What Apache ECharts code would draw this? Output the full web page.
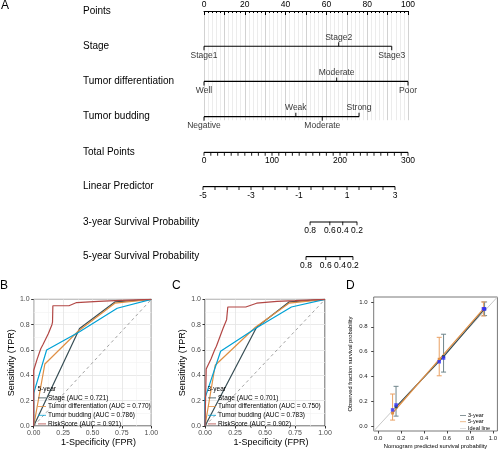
<!DOCTYPE html>
<html><head><meta charset="utf-8">
<script src="https://cdn.jsdelivr.net/npm/echarts@6/dist/echarts.min.js"></script>
<style>html,body{margin:0;padding:0;background:#fff}#c{width:500px;height:454px}</style>
</head><body><div id="c"></div>
<script>
// ---------------- DATA ----------------
// Nomogram (panel A)
const nomoRowNames = ['Points', 'Stage', 'Tumor differentiation', 'Tumor budding'];
const scaleRowNames = ['Total Points', 'Linear Predictor', '3-year Survival Probability', '5-year Survival Probability'];
const stageLevels = ['Stage1', 'Stage2', 'Stage3'];
const stagePoints = [0, 66, 92];
const diffLevels = ['Well', 'Moderate', 'Poor'];
const diffPoints = [0, 65, 100];
const buddingLevels = ['Negative', 'Weak', 'Moderate', 'Strong'];
const buddingPoints = [0, 45, 58, 76];
const pointsRange = [0, 100];
const totalPointsRange = [0, 300];
const totalPointsLabels = [0, 100, 200, 300];
const totalPointsTickStep = 10;
const linPredRange = [-5, 3];
const linPredLabels = [-5, -3, -1, 1, 3];
const linPredTickStep = 0.5;
const surv3Labels = ['0.8', '0.6', '0.4', '0.2'];
const surv3TotalPoints = [156, 185, 204, 225];
const surv5Labels = ['0.8', '0.6', '0.4', '0.2'];
const surv5TotalPoints = [150, 179, 200, 219];

// ROC (panels B, C)
const rocVars = ['Stage', 'Tumor differentiation', 'Tumor budding', 'RiskScore'];
const auc5 = ['0.721', '0.770', '0.786', '0.921'];
const auc3 = ['0.701', '0.750', '0.783', '0.902'];
const roc5Stage = [[0,0],[0.39,0.77],[0.69,0.98],[1,1]];
const roc5Diff = [[0,0],[0.095,0.49],[0.38,0.75],[0.69,0.97],[1,1]];
const roc5Bud = [[0,0],[0,0.26],[0.11,0.60],[0.39,0.745],[0.71,0.93],[1,1]];
const roc5Risk = [[0,0],[0,0.44],[0.03,0.53],[0.06,0.61],[0.08,0.645],[0.125,0.73],[0.155,0.80],[0.16,0.82],[0.163,0.95],[0.30,0.95],[0.365,0.975],[0.55,0.985],[0.69,0.99],[1,1]];
const roc3Stage = [[0,0],[0.43,0.78],[0.70,0.98],[1,1]];
const roc3Diff = [[0,0],[0.085,0.48],[0.42,0.78],[0.70,0.97],[1,1]];
const roc3Bud = [[0,0],[0,0.22],[0.13,0.59],[0.42,0.77],[0.72,0.94],[1,1]];
const roc3Risk = [[0,0],[0.01,0.45],[0.05,0.53],[0.08,0.60],[0.095,0.63],[0.15,0.77],[0.18,0.84],[0.19,0.94],[0.34,0.94],[0.43,0.97],[0.6,0.985],[0.75,0.99],[1,1]];
const rocDiagonal = [[0,0],[1,1]];

// Calibration (panel D)
const calNames = ['3-year', '5-year', 'Ideal line'];
const cal3 = [[0.155,0.155],[0.57,0.56],[0.928,0.944]];
const cal5 = [[0.125,0.105],[0.532,0.538],[0.918,0.945]];
const cal3Err = [[0.155,0.08,0.32],[0.57,0.435,0.74],[0.928,0.89,1.0]];
const cal5Err = [[0.125,0.048,0.258],[0.532,0.405,0.715],[0.918,0.887,1.0]];
const cal3Corrected = [[0.155,0.17],[0.57,0.548],[0.928,0.944]];
const cal5Corrected = [[0.125,0.13],[0.532,0.518],[0.918,0.945]];
const calTicks = [0, 0.2, 0.4, 0.6, 0.8, 1.0];

// ---------------- CHART ----------------
const FONT = '"Liberation Sans", Arial, Helvetica, sans-serif';
const TXT = '#000';
const COL = ['#374E55', '#DF8F44', '#00A1D5', '#B24745'];
const LINE_ICON = 'path://M0,0L20,0L20,2L0,2Z';
const chart = echarts.init(document.getElementById('c'), null, {renderer: 'canvas'});
const grids = [], xAxes = [], yAxes = [], series = [], titles = [], legends = [];

function steps(range, step) {
  const out = [];
  const n = Math.round((range[1] - range[0]) / step);
  for (let i = 0; i <= n; i++) out.push(+(range[0] + i * step).toFixed(6));
  return out;
}

// ---- Panel A: nomogram ----
const NL = 204, NW = 204;   // points axis pixel span
const rowStep = 35.23;
grids.push({left: NL, top: 11, width: NW, height: rowStep * 3.1});
xAxes.push({gridIndex: 0, type: 'value', position: 'top', min: pointsRange[0], max: pointsRange[1], interval: 10,
  axisLine: {show: true, onZero: false, lineStyle: {color: '#000', width: 1}},
  axisTick: {show: true, inside: true, length: 4, lineStyle: {color: '#000', width: 1}},
  minorTick: {show: true, splitNumber: 5, length: 2, lineStyle: {color: '#000', width: 1}},
  axisLabel: {fontSize: 8.5, color: TXT, margin: 2, fontFamily: FONT, formatter: v => (v % 20 === 0 ? String(v) : '')},
  splitLine: {show: true, lineStyle: {color: '#d2d2d2', width: 1}},
  minorSplitLine: {show: true, lineStyle: {color: '#ececec', width: 1}}
});
yAxes.push({gridIndex: 0, type: 'value', min: 0, max: 3.1, inverse: true,
  axisLine: {show: false}, axisTick: {show: false}, splitLine: {show: false},
  axisLabel: {show: true, customValues: [0, 1, 2, 3], formatter: v => nomoRowNames[Math.round(v)] || '',
    align: 'left', margin: NL - 83, fontSize: 10, color: TXT, fontFamily: FONT}
});
const predictors = [
  {levels: stageLevels, pts: stagePoints},
  {levels: diffLevels, pts: diffPoints},
  {levels: buddingLevels, pts: buddingPoints}
];
predictors.forEach((p, k) => {
  const row = k + 1;
  series.push({type: 'line', xAxisIndex: 0, yAxisIndex: 0, silent: true, z: 3, symbol: 'none',
    data: [[Math.min(...p.pts), row], [Math.max(...p.pts), row]],
    lineStyle: {color: '#000', width: 1.2}});
  series.push({type: 'scatter', xAxisIndex: 0, yAxisIndex: 0, silent: true, z: 4, symbol: 'rect', symbolSize: [1.2, 4],
    itemStyle: {color: '#000'},
    label: {show: true, formatter: '{b}', distance: 0.5, fontSize: 8.5, color: TXT, fontFamily: FONT},
    data: p.levels.map((name, i) => {
      const up = i % 2 === 1;
      return {name: name, value: [p.pts[i], row], symbolOffset: [0, up ? -2 : 2], label: {position: up ? 'top' : 'bottom'}};
    })
  });
});
// scale rows (each in its own thin grid; line and ticks drawn as series on the row's axis)
const ptsPx = NW / (totalPointsRange[1] - totalPointsRange[0]);
const scaleRows = [
  {top: 151.8, left: NL, width: NW, min: totalPointsRange[0], max: totalPointsRange[1],
   ticks: steps(totalPointsRange, totalPointsTickStep), labels: totalPointsLabels, fmt: v => String(v)},
  {top: 186.2, left: 203, width: 192, min: linPredRange[0], max: linPredRange[1],
   ticks: steps(linPredRange, linPredTickStep), labels: linPredLabels, fmt: v => String(v)},
  {top: 221.5, left: NL + ptsPx * surv3TotalPoints[0], width: ptsPx * (surv3TotalPoints[3] - surv3TotalPoints[0]),
   min: surv3TotalPoints[0], max: surv3TotalPoints[3], ticks: surv3TotalPoints, labels: surv3TotalPoints,
   fmt: v => surv3Labels[surv3TotalPoints.indexOf(v)] || ''},
  {top: 256.2, left: NL + ptsPx * surv5TotalPoints[0], width: ptsPx * (surv5TotalPoints[3] - surv5TotalPoints[0]),
   min: surv5TotalPoints[0], max: surv5TotalPoints[3], ticks: surv5TotalPoints, labels: surv5TotalPoints,
   fmt: v => surv5Labels[surv5TotalPoints.indexOf(v)] || ''}
];
scaleRows.forEach((r, k) => {
  const gi = grids.length;
  grids.push({left: r.left, top: r.top, width: r.width, height: 1});
  xAxes.push({gridIndex: gi, type: 'value', position: 'bottom', min: r.min, max: r.max,
    axisLine: {show: false, onZero: false},
    axisTick: {show: false},
    axisLabel: {fontSize: 8.5, color: TXT, margin: 3.5, fontFamily: FONT, customValues: r.labels, formatter: r.fmt,
      showMinLabel: true, showMaxLabel: true},
    splitLine: {show: false}});
  yAxes.push({gridIndex: gi, type: 'category', data: [scaleRowNames[k]],
    axisLine: {show: false}, axisTick: {show: false}, splitLine: {show: false},
    axisLabel: {align: 'left', margin: r.left - 83, fontSize: 10, color: TXT, fontFamily: FONT}});
  series.push({type: 'line', xAxisIndex: gi, yAxisIndex: gi, silent: true, symbol: 'none', z: 3,
    data: [[r.min, 0], [r.max, 0]], lineStyle: {color: '#000', width: 1.2}});
  series.push({type: 'scatter', xAxisIndex: gi, yAxisIndex: gi, silent: true, z: 4,
    symbol: 'rect', symbolSize: [1.1, 3.5], symbolOffset: [0, 1.6], itemStyle: {color: '#000'},
    data: r.ticks.map(t => [t, 0])});
});

// ---- Panels B, C: ROC ----
function rocPanel(left, width, curves, aucs, yearLabel, legendLeft) {
  const gi = grids.length;
  grids.push({left: left, top: 299.4, width: width, height: 126.6, show: true,
    borderColor: '#333', borderWidth: 1, backgroundColor: '#fff'});
  xAxes.push({gridIndex: gi, type: 'value', min: 0, max: 1, interval: 0.25,
    axisLine: {show: false, onZero: false}, axisTick: {show: true, length: 2.5, lineStyle: {color: '#333'}},
    minorTick: {show: false, splitNumber: 2},
    axisLabel: {fontSize: 7, color: '#4d4d4d', margin: 3.5, fontFamily: FONT, formatter: v => v.toFixed(2)},
    splitLine: {show: true, lineStyle: {color: '#e3e3e3', width: 0.8}},
    minorSplitLine: {show: true, lineStyle: {color: '#f1f1f1', width: 0.6}},
    name: '1-Specificity (FPR)', nameLocation: 'middle', nameGap: 12.5,
    nameTextStyle: {fontSize: 9, color: TXT, fontFamily: FONT, padding: [0, 0, 0, 12]}});
  yAxes.push({gridIndex: gi, type: 'value', min: 0, max: 1, interval: 0.2,
    axisLine: {show: false, onZero: false}, axisTick: {show: true, length: 2.5, lineStyle: {color: '#333'}},
    minorTick: {show: false, splitNumber: 2},
    axisLabel: {fontSize: 7, color: '#4d4d4d', margin: 4, fontFamily: FONT, formatter: v => v.toFixed(1)},
    splitLine: {show: true, lineStyle: {color: '#e3e3e3', width: 0.8}},
    minorSplitLine: {show: true, lineStyle: {color: '#f1f1f1', width: 0.6}},
    name: 'Sensitivity (TPR)', nameLocation: 'middle', nameGap: 18,
    nameTextStyle: {fontSize: 9, color: TXT, fontFamily: FONT}});
  series.push({type: 'line', xAxisIndex: gi, yAxisIndex: gi, data: rocDiagonal, symbol: 'none', silent: true, z: 2,
    lineStyle: {color: '#8a8a8a', width: 0.8, type: [3, 3]}});
  const names = [];
  curves.forEach((d, i) => {
    const nm = rocVars[i] + ' (AUC = ' + aucs[i] + ')';
    names.push({name: nm, icon: LINE_ICON});
    series.push({type: 'line', name: nm, xAxisIndex: gi, yAxisIndex: gi, data: d, symbol: 'none', z: 3,
      lineStyle: {color: COL[i], width: 1.2}, itemStyle: {color: COL[i]}});
  });
  legends.push({data: names, orient: 'vertical', left: legendLeft, top: 394.4, padding: 0,
    itemWidth: 8, itemHeight: 6, itemGap: 1.67, selectedMode: false,
    textStyle: {fontSize: 6.5, color: TXT, fontFamily: FONT, lineHeight: 6, padding: [0, 0, 0, -3]}});
  titles.push({text: yearLabel, left: legendLeft - 0.5, top: 386, padding: 0,
    textStyle: {fontSize: 6.5, fontWeight: 'normal', color: TXT, fontFamily: FONT}});
}
rocPanel(33.7, 117.6, [roc5Stage, roc5Diff, roc5Bud, roc5Risk], auc5, '5-year', 38);
rocPanel(205, 120, [roc3Stage, roc3Diff, roc3Bud, roc3Risk], auc3, '3-year', 208);

// ---- Panel D: calibration ----
const dMin = -0.04, dMax = 1.04;
const gD = grids.length;
grids.push({left: 373.7, top: 297, width: 124.6, height: 134, show: true, borderColor: '#555', borderWidth: 0.8, backgroundColor: '#fff'});
xAxes.push({gridIndex: gD, type: 'value', min: dMin, max: dMax,
  axisLine: {show: false, onZero: false},
  axisTick: {show: true, length: 2.5, customValues: calTicks, lineStyle: {color: '#444'}},
  axisLabel: {customValues: calTicks, formatter: v => v.toFixed(1), fontSize: 6, color: '#222', margin: 4, fontFamily: FONT},
  splitLine: {show: false},
  name: 'Nomogram predicted survival probability', nameLocation: 'middle', nameGap: 12,
  nameTextStyle: {fontSize: 5.8, color: TXT, fontFamily: FONT}});
yAxes.push({gridIndex: gD, type: 'value', min: dMin, max: dMax,
  axisLine: {show: false, onZero: false},
  axisTick: {show: true, length: 2.5, customValues: calTicks, lineStyle: {color: '#444'}},
  axisLabel: {customValues: calTicks, formatter: v => v.toFixed(1), fontSize: 6, color: '#222', margin: 6, fontFamily: FONT},
  splitLine: {show: false},
  name: 'Observed fraction survival probability', nameLocation: 'middle', nameGap: 20,
  nameTextStyle: {fontSize: 5.8, color: TXT, fontFamily: FONT}});
series.push({type: 'line', name: 'Ideal line', xAxisIndex: gD, yAxisIndex: gD, data: [[dMin, dMin], [dMax, dMax]],
  symbol: 'none', z: 2, lineStyle: {color: '#c8c8c8', width: 1}, itemStyle: {color: '#c8c8c8'}});
function errSeries(data, color) {
  return {type: 'custom', xAxisIndex: gD, yAxisIndex: gD, data: data, z: 3, silent: true,
    encode: {x: 0, y: [1, 2]},
    renderItem: (params, api) => {
      const x = api.value(0);
      const p1 = api.coord([x, api.value(1)]), p2 = api.coord([x, api.value(2)]);
      const w = 2.5, st = {stroke: color, lineWidth: 1};
      return {type: 'group', children: [
        {type: 'line', shape: {x1: p1[0], y1: p1[1], x2: p2[0], y2: p2[1]}, style: st},
        {type: 'line', shape: {x1: p1[0] - w, y1: p1[1], x2: p1[0] + w, y2: p1[1]}, style: st},
        {type: 'line', shape: {x1: p2[0] - w, y1: p2[1], x2: p2[0] + w, y2: p2[1]}, style: st}
      ]};
    }};
}
series.push(errSeries(cal3Err, '#6f858b'));
series.push(errSeries(cal5Err, '#E9A063'));
series.push({type: 'line', name: '3-year', xAxisIndex: gD, yAxisIndex: gD, data: cal3, symbol: 'rect', symbolSize: 3, z: 4,
  lineStyle: {color: COL[0], width: 1.2}, itemStyle: {color: COL[0]}});
series.push({type: 'line', name: '5-year', xAxisIndex: gD, yAxisIndex: gD, data: cal5, symbol: 'rect', symbolSize: 3, z: 4,
  lineStyle: {color: COL[1], width: 1.2}, itemStyle: {color: COL[1]}});
[cal3Corrected, cal5Corrected].forEach(d => series.push({type: 'scatter', xAxisIndex: gD, yAxisIndex: gD, data: d,
  symbol: 'rect', symbolSize: 3.5, z: 5, silent: true, itemStyle: {color: '#3030ff'}}));
legends.push({data: calNames.map(n => ({name: n, icon: LINE_ICON})), orient: 'vertical', left: 460, top: 412.3, padding: 0,
  itemWidth: 6, itemHeight: 4, itemGap: 0.5, selectedMode: false,
  textStyle: {fontSize: 5.5, color: TXT, fontFamily: FONT, lineHeight: 4, padding: [0, 0, 0, -3]}});

// panel letters
[['A', 1, 0], ['B', 0, 280], ['C', 172, 280], ['D', 346, 280]].forEach(t => titles.push({
  text: t[0], left: t[1], top: t[2], padding: 0,
  textStyle: {fontSize: 12, fontWeight: 'normal', color: '#000', fontFamily: FONT}}));

chart.setOption({
  animation: false,
  backgroundColor: '#fff',
  title: titles,
  legend: legends,
  grid: grids,
  xAxis: xAxes,
  yAxis: yAxes,
  series: series
});
</script>
</body></html>
